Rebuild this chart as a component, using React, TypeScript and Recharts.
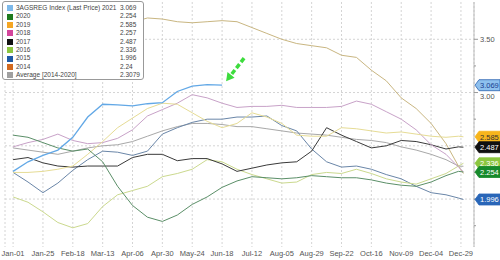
import { LineChart, Line, XAxis, YAxis, CartesianGrid, Legend } from "recharts";

// day of year for each sample
const days = [0, 12, 24, 36, 48, 60, 72, 84, 96, 108, 120, 132, 144, 156, 168, 180, 192, 204, 216, 228, 240, 252, 264, 276, 288, 300, 312, 324, 336, 348, 358, 362];

const tickDays = [0, 24, 48, 72, 96, 120, 144, 168, 192, 216, 240, 264, 288, 312, 336, 360];
const tickLabels = ["Jan-01", "Jan-25", "Feb-18", "Mar-13", "Apr-06", "Apr-30", "May-24", "Jun-18", "Jul-12", "Aug-05", "Aug-29", "Sep-22", "Oct-16", "Nov-09", "Dec-04", "Dec-29"];

const y2021 = [2.26, 2.35, 2.41, 2.46, 2.58, 2.77, 2.89, 2.885, 2.875, 2.895, 2.905, 3.01, 3.06, 3.075, 3.069];
const y2020 = [2.6, 2.58, 2.53, 2.48, 2.45, 2.47, 2.35, 2.12, 1.94, 1.83, 1.79, 1.85, 1.95, 2.02, 2.11, 2.17, 2.21, 2.2, 2.19, 2.2, 2.22, 2.21, 2.2, 2.2, 2.18, 2.15, 2.13, 2.12, 2.16, 2.22, 2.26, 2.254];
const y2019 = [2.25, 2.25, 2.26, 2.28, 2.31, 2.42, 2.54, 2.67, 2.76, 2.85, 2.9, 2.89, 2.81, 2.73, 2.67, 2.71, 2.81, 2.77, 2.71, 2.6, 2.59, 2.59, 2.67, 2.66, 2.64, 2.62, 2.63, 2.61, 2.59, 2.58, 2.59, 2.585];
const y2018 = [2.49, 2.53, 2.56, 2.61, 2.55, 2.52, 2.53, 2.57, 2.65, 2.78, 2.84, 2.9, 2.98, 2.95, 2.9, 2.86, 2.87, 2.87, 2.88, 2.86, 2.86, 2.86, 2.87, 2.92, 2.89, 2.82, 2.75, 2.65, 2.51, 2.42, 2.3, 2.257];
const y2017 = [2.37, 2.39, 2.34, 2.31, 2.3, 2.31, 2.31, 2.31, 2.39, 2.42, 2.42, 2.36, 2.38, 2.38, 2.33, 2.26, 2.29, 2.32, 2.34, 2.35, 2.45, 2.67, 2.6, 2.54, 2.48, 2.5, 2.55, 2.54, 2.51, 2.47, 2.49, 2.487];
const y2016 = [2.02, 1.97, 1.88, 1.78, 1.73, 1.77, 1.93, 2.04, 2.08, 2.12, 2.21, 2.24, 2.28, 2.37, 2.35, 2.28, 2.23, 2.19, 2.15, 2.16, 2.23, 2.25, 2.24, 2.28, 2.24, 2.19, 2.16, 2.14, 2.19, 2.24, 2.31, 2.336];
const y2015 = [2.25, 2.16, 2.06, 2.15, 2.27, 2.37, 2.45, 2.44, 2.41, 2.45, 2.61, 2.67, 2.72, 2.75, 2.75, 2.77, 2.77, 2.78, 2.69, 2.64, 2.47, 2.35, 2.3, 2.31, 2.28, 2.23, 2.19, 2.12, 2.06, 2.04, 2.01, 1.996];
const y2014 = [3.32, 3.33, 3.36, 3.42, 3.5, 3.53, 3.58, 3.62, 3.66, 3.7, 3.69, 3.665, 3.655, 3.665, 3.675, 3.665, 3.61, 3.555, 3.5, 3.46, 3.44, 3.42, 3.35, 3.33, 3.21, 3.11, 2.95, 2.85, 2.71, 2.52, 2.31, 2.24];
const yAvg = [2.48, 2.46, 2.44, 2.42, 2.45, 2.48, 2.5, 2.51, 2.54, 2.59, 2.64, 2.68, 2.71, 2.71, 2.7, 2.68, 2.68, 2.66, 2.64, 2.62, 2.61, 2.6, 2.58, 2.56, 2.55, 2.53, 2.49, 2.46, 2.42, 2.37, 2.31, 2.3079];

const legendNames = ["3AGSREG Index (Last Price) 2021", "2020", "2019", "2018", "2017", "2016", "2015", "2014", "Average  [2014-2020]"];
const legendValues = ["3.069", "2.254", "2.585", "2.257", "2.487", "2.336", "1.996", "2.24", "2.3079"];

const series = [
  { key: "s2021", values: y2021, line: "#62a8e6", swatch: "#7db9ea", width: 1.3 },
  { key: "s2020", values: y2020, line: "#5b8f68", swatch: "#1e7b1e", width: 1 },
  { key: "s2019", values: y2019, line: "#e6dc95", swatch: "#f5a623", width: 1 },
  { key: "s2018", values: y2018, line: "#c8a2c8", swatch: "#d4459c", width: 1 },
  { key: "s2017", values: y2017, line: "#3a3a3a", swatch: "#111111", width: 1 },
  { key: "s2016", values: y2016, line: "#cbd98e", swatch: "#8cc63f", width: 1 },
  { key: "s2015", values: y2015, line: "#6a86a8", swatch: "#1f5aa6", width: 1 },
  { key: "s2014", values: y2014, line: "#c9b681", swatch: "#d2691e", width: 1 },
  { key: "avg", values: yAvg, line: "#a8a8a8", swatch: "#a0a0a0", width: 1 },
];

// last-value tags on the right axis
const tags = [
  { value: 3.069, fill: "#8ec0ee", stroke: "#2a62b0", text: "#1a3d8f" },
  { value: 2.585, fill: "#f7b51c", stroke: "#f7b51c", text: "#333" },
  { value: 2.487, fill: "#111", stroke: "#111", text: "#fff" },
  { value: 2.336, fill: "#8cc63f", stroke: "#8cc63f", text: "#fff" },
  { value: 2.254, fill: "#178a2b", stroke: "#178a2b", text: "#fff" },
  { value: 1.996, fill: "#2966b8", stroke: "#2966b8", text: "#fff" },
];
const majorTicks = [3.5, 3, 2.5, 2];
const minorTicks = [3.25, 2.75, 2.25, 1.75];

const data = days.map((d, i) => {
  const row: any = { day: d };
  series.forEach((s) => {
    row[s.key] = i < s.values.length ? s.values[i] : null;
  });
  return row;
});

const font = "'Liberation Sans', Arial, sans-serif";

const RightTick = (props: any) => {
  const { x, y, payload } = props;
  const v = payload.value;
  const tag = tags.find((t) => t.value === v);
  if (tag) {
    const x0 = x + 1;
    return (
      <g>
        <polygon
          points={`${x0},${y} ${x0 + 4},${y - 5.5} ${x0 + 25},${y - 5.5} ${x0 + 25},${y + 5.5} ${x0 + 4},${y + 5.5}`}
          fill={tag.fill}
          stroke={tag.stroke}
          strokeWidth={0.8}
        />
        <text x={x0 + 5} y={y + 2.8} fontSize={7.5} fill={tag.text} fontFamily={font}>
          {v.toFixed(3)}
        </text>
      </g>
    );
  }
  const major = majorTicks.includes(v);
  // labels right under a tag are hidden; one just below a tag is nudged down
  const covered = tags.some((t) => Math.abs(t.value - v) < 0.04);
  const near = tags.some((t) => t.value > v && t.value - v < 0.1);
  return (
    <g>
      <line x1={x} x2={x + (major ? 4 : 2)} y1={y} y2={y} stroke="#999" />
      {major && !covered && (
        <text x={x + 6} y={y + (near ? 6.5 : 2.8)} fontSize={7.5} fill="#555" fontFamily={font}>
          {v.toFixed(2)}
        </text>
      )}
    </g>
  );
};

const ArrowLabel = (props: any) => {
  const { x, y, index } = props;
  if (index !== y2021.length - 1) return null;
  return (
    <g>
      <line x1={x + 22} y1={y - 27} x2={x + 9} y2={y - 10.3} stroke="#3ddc3d" strokeWidth={3.5} strokeDasharray="5 2.5" />
      <polygon points={`${x + 4},${y - 4} ${x + 12.5},${y - 7.5} ${x + 5.4},${y - 13.1}`} fill="#3ddc3d" />
    </g>
  );
};

const renderLegend = () => (
  <div
    style={{
      width: 140,
      height: 77,
      border: "1px solid #999",
      borderRadius: 3,
      background: "#fff",
      position: "relative",
      fontFamily: font,
      fontSize: 6.5,
      color: "#444",
    }}
  >
    {legendNames.map((n, i) => (
      <div key={n} style={{ position: "absolute", top: 2 + i * 8.4, left: 0, height: 8.4, width: 140, lineHeight: "8.4px", whiteSpace: "nowrap" }}>
        <span style={{ position: "absolute", left: 4, top: 1.2, width: 6, height: 6, background: series[i].swatch }} />
        <span style={{ position: "absolute", left: 13 }}>{n}</span>
        <span style={{ position: "absolute", left: 117 }}>{legendValues[i]}</span>
      </div>
    ))}
  </div>
);

export default function App() {
  return (
    <div style={{ position: "absolute", left: 0, top: 0, width: 500, height: 260, background: "#fff" }}>
      <LineChart width={500} height={260} data={data} margin={{ top: 2, right: 0, left: 5, bottom: 0 }}>
        <CartesianGrid stroke="#d4d4d4" strokeDasharray="2 2" horizontalValues={majorTicks} />
        <XAxis
          dataKey="day"
          type="number"
          domain={[-6.5, 370.5]}
          ticks={tickDays}
          interval={0}
          tickFormatter={(d: number) => tickLabels[tickDays.indexOf(d)]}
          axisLine={false}
          tickLine={false}
          tickSize={0}
          tickMargin={4}
          height={13}
          tick={{ fontSize: 7.5, fill: "#555", fontFamily: font }}
        />
        <YAxis
          orientation="right"
          type="number"
          domain={[1.55, 3.85]}
          ticks={[...majorTicks, ...minorTicks, ...tags.map((t) => t.value)]}
          interval={0}
          width={26}
          tickSize={0}
          tickMargin={0}
          tickLine={false}
          axisLine={{ stroke: "#bbb" }}
          tick={<RightTick />}
        />
        <Legend
          content={renderLegend}
          layout="vertical"
          align="center"
          verticalAlign="middle"
          wrapperStyle={{ left: 2, top: 1, width: 142 }}
        />
        {series
          .slice()
          .reverse()
          .map((s) => (
            <Line
              key={s.key}
              dataKey={s.key}
              type="linear"
              stroke={s.line}
              strokeWidth={s.width}
              dot={false}
              isAnimationActive={false}
              label={s.key === "s2021" ? <ArrowLabel /> : undefined}
            />
          ))}
      </LineChart>
    </div>
  );
}
